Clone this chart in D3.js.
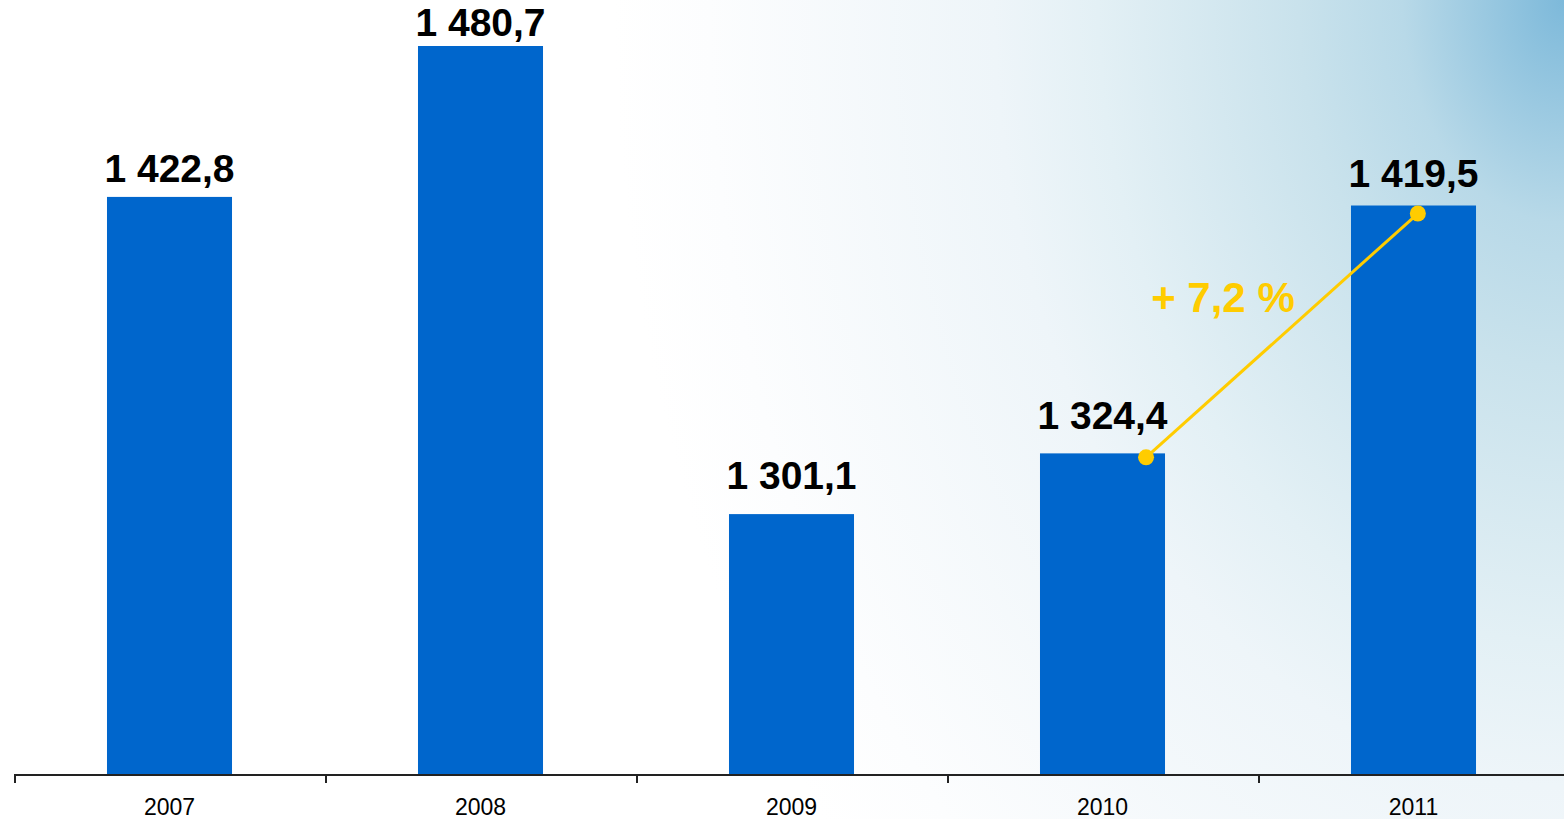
<!DOCTYPE html>
<html>
<head>
<meta charset="utf-8">
<script src="https://cdn.jsdelivr.net/npm/d3@7"></script>
<style>
  html, body { margin: 0; padding: 0; background: #fff; overflow: hidden; }
  text { font-family: Arial, "Liberation Sans", sans-serif; }
</style>
</head>
<body>
<div id="chart"></div>
<script>
// data
var years = ["2007", "2008", "2009", "2010", "2011"];
var values = [1422.8, 1480.7, 1301.1, 1324.4, 1419.5];
var valueLabels = ["1 422,8", "1 480,7", "1 301,1", "1 324,4", "1 419,5"];
var growthLabel = "+ 7,2 %";
var growthFrom = 3, growthTo = 4; // 2010 -> 2011

// layout
var width = 1564, height = 819;
var labelGap = [15, 10, 25, 24, 19]; // space between bar top and label baseline

var svg = d3.select("#chart").append("svg")
    .attr("width", width)
    .attr("height", height);

// background wash, white -> light blue in the top right corner
var defs = svg.append("defs");
var grad = defs.append("radialGradient")
    .attr("id", "bg")
    .attr("gradientUnits", "userSpaceOnUse")
    .attr("cx", 1564).attr("cy", 0).attr("r", 950)
    .attr("gradientTransform", "translate(1564,0) scale(1,1.38) translate(-1564,0)");
var stops = [[0, "#7db9da"], [0.17, "#b8d9e8"], [0.28, "#c9e2ec"], [0.49, "#e3f0f5"],
             [0.6, "#eef5f9"], [0.9, "#fcfdfe"], [1, "#ffffff"]];
stops.forEach(function(s){
    grad.append("stop").attr("offset", s[0]).attr("stop-color", s[1]);
});

svg.append("rect")
    .attr("width", width).attr("height", height)
    .attr("fill", "url(#bg)");

// scales
var x = d3.scaleBand().domain(years).range([14, 1569]).padding(0);
var y = d3.scaleLinear().domain([1201, 1480.7]).range([775, 46]);
var barW = x.bandwidth() * 0.402;

// bars
svg.selectAll(".bar")
    .data(values)
    .enter().append("rect")
    .attr("class", "bar")
    .attr("x", function(d, i){ return x(years[i]) + (x.bandwidth() - barW) / 2; })
    .attr("y", function(d){ return y(d); })
    .attr("width", barW)
    .attr("height", function(d){ return y.range()[0] - y(d); })
    .attr("fill", "#0066cc");

// value labels
svg.selectAll(".val")
    .data(values)
    .enter().append("text")
    .attr("class", "val")
    .attr("x", function(d, i){ return x(years[i]) + x.bandwidth() / 2; })
    .attr("y", function(d, i){ return y(d) - labelGap[i]; })
    .attr("text-anchor", "middle")
    .attr("font-size", 39)
    .attr("font-weight", "bold")
    .attr("fill", "#000")
    .text(function(d, i){ return valueLabels[i]; });

// x axis: baseline with ticks between categories
var base = y.range()[0];
svg.append("line")
    .attr("x1", 14).attr("x2", width)
    .attr("y1", base).attr("y2", base)
    .attr("stroke", "#222").attr("stroke-width", 2);

svg.selectAll(".tick")
    .data(years)
    .enter().append("line")
    .attr("class", "tick")
    .attr("x1", function(d){ return x(d) + 1; })
    .attr("x2", function(d){ return x(d) + 1; })
    .attr("y1", base).attr("y2", base + 8)
    .attr("stroke", "#222").attr("stroke-width", 2);

svg.selectAll(".year")
    .data(years)
    .enter().append("text")
    .attr("class", "year")
    .attr("x", function(d){ return x(d) + x.bandwidth() / 2; })
    .attr("y", 815)
    .attr("text-anchor", "middle")
    .attr("font-size", 23)
    .attr("fill", "#000")
    .text(function(d){ return d; });

// growth line 2010 -> 2011
var p1 = [x(years[growthFrom]) + x.bandwidth() * 0.64, y(values[growthFrom]) + 4];
var p2 = [x(years[growthTo]) + x.bandwidth() * 0.514, y(values[growthTo]) + 8];

svg.append("line")
    .attr("x1", p1[0]).attr("y1", p1[1])
    .attr("x2", p2[0]).attr("y2", p2[1])
    .attr("stroke", "#ffcc00").attr("stroke-width", 3);

svg.selectAll(".dot")
    .data([p1, p2])
    .enter().append("circle")
    .attr("class", "dot")
    .attr("cx", function(d){ return d[0]; })
    .attr("cy", function(d){ return d[1]; })
    .attr("r", 8)
    .attr("fill", "#ffcc00");

svg.append("text")
    .attr("x", (p1[0] + p2[0]) / 2 - 59)
    .attr("y", (p1[1] + p2[1]) / 2 - 23)
    .attr("text-anchor", "middle")
    .attr("font-size", 42)
    .attr("font-weight", "bold")
    .attr("fill", "#ffcc00")
    .text(growthLabel);
</script>
</body>
</html>
